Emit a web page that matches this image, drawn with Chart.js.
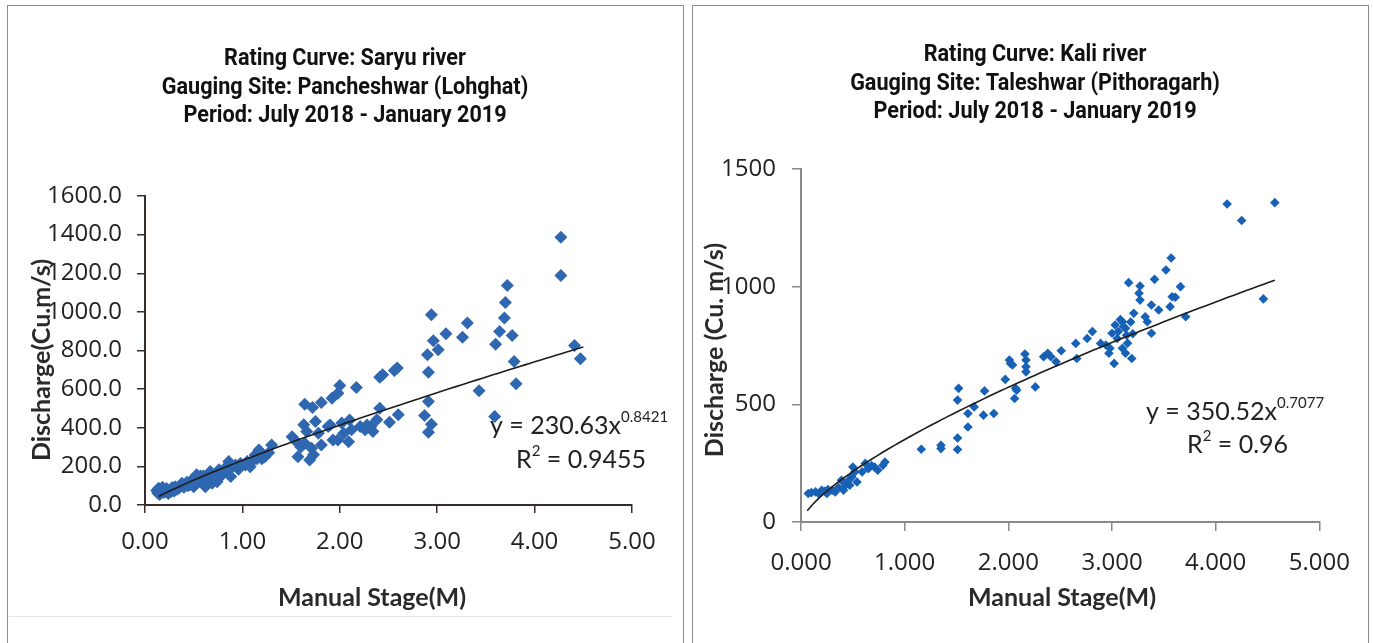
<!DOCTYPE html>
<html>
<head>
<meta charset="utf-8">
<script src="https://cdn.jsdelivr.net/npm/chart.js@4.4.1/dist/chart.umd.min.js"></script>
<style>
    body { margin: 0; background: #fff; width: 1373px; height: 643px; overflow: hidden; position: relative; }
    .panel { position: absolute; top: 5px; height: 660px; border: 1.5px solid #8c8c8c; box-sizing: border-box; }
    #panelLeft { left: 7px; width: 677px; }
    #panelRight { left: 692px; width: 677px; }
    .rule { position: absolute; left: 9px; width: 663px; top: 616px; border-top: 1px solid #e6e6e6; }
    canvas { position: absolute; }
    #saryuChart { left: 8px; top: 5px; }
    #kaliChart { left: 693px; top: 5px; }
</style>
</head>
<body>
<div class="panel" id="panelLeft"></div>
<div class="panel" id="panelRight"></div>
<div class="rule"></div>
<canvas id="saryuChart" width="674" height="638"></canvas>
<canvas id="kaliChart" width="675" height="638"></canvas>

<script>
// Saryu river, Pancheshwar (Lohghat)
const saryuStage = [0.12, 0.13, 0.14, 0.15, 0.16, 0.17, 0.19, 0.21, 0.22, 0.24, 0.26, 0.28, 0.30, 0.31, 0.33, 0.36, 0.38, 0.40, 0.43, 0.46, 0.48, 0.50, 0.53, 0.55, 0.58, 0.60, 0.62, 0.65, 0.67, 0.69, 0.72, 0.76, 0.78, 0.82, 0.86, 0.88, 0.90, 0.93, 0.96, 1.03, 1.05, 1.10, 1.13, 1.17, 1.20, 1.23, 1.27, 1.30,
    0.18, 0.27, 0.35, 0.44, 0.52, 0.57, 0.70, 0.74, 0.84, 0.98, 1.08, 1.15,
    1.51, 1.55, 1.57, 1.60, 1.63, 1.64, 1.66, 1.69, 1.71, 1.73, 1.75, 1.78, 1.81, 1.88, 1.90, 1.93, 1.98, 2.02, 2.04, 2.09, 2.10, 2.12, 2.21, 2.26, 2.28, 2.32, 2.34,
    1.64, 1.72, 1.81, 1.92, 1.98, 2.00, 2.17,
    2.38, 2.41, 2.41, 2.44, 2.51, 2.56, 2.59, 2.60,
    2.87, 2.90, 2.91, 2.91, 2.91, 2.94, 2.94, 2.96, 3.01, 3.09, 3.26, 3.31, 3.43, 3.59, 3.60, 3.64, 3.69, 3.70, 3.72, 3.77, 3.79, 3.81, 4.27, 4.27, 4.41, 4.47];
const saryuDischarge = [75, 62, 87, 55, 70, 80, 66, 69, 85, 60, 78, 90, 72, 95, 82, 100, 113, 92, 118, 105, 130, 95, 156, 120, 140, 150, 95, 135, 173, 113, 160, 182, 150, 190, 225, 147, 200, 207, 185, 207, 225, 225, 259, 285, 240, 250, 270, 311,
    92, 70, 88, 100, 112, 150, 140, 120, 172, 215, 198, 240,
    354, 330, 250, 300, 415, 320, 380, 233, 294, 260, 432, 372, 311, 406, 414, 337, 337, 424, 371, 328, 440, 389, 406, 389, 414, 406, 380,
    522, 505, 531, 553, 579, 619, 608,
    441, 501, 662, 674, 429, 697, 709, 467,
    463, 778, 688, 536, 377, 418, 985, 851, 804, 887, 868, 942, 591, 458, 833, 899, 968, 1049, 1136, 878, 743, 628, 1386, 1188, 826, 757];

// Kali river, Taleshwar (Pithoragarh)
const kaliStage = [0.07, 0.10, 0.14, 0.17, 0.20, 0.23, 0.25, 0.26, 0.30, 0.33, 0.36, 0.39, 0.41, 0.43, 0.46, 0.47, 0.49, 0.50, 0.52, 0.54, 0.59, 0.62, 0.65, 0.68, 0.71, 0.74, 0.79, 0.81,
    1.16, 1.35, 1.35, 1.51, 1.51, 1.51, 1.52, 1.61, 1.61, 1.67, 1.76, 1.77, 1.86, 1.97, 2.01, 2.02, 2.04, 2.06, 2.07, 2.08, 2.16, 2.17, 2.17, 2.17, 2.26, 2.34, 2.38, 2.41, 2.46, 2.51, 2.65, 2.66, 2.76, 2.81,
    2.89, 2.94, 2.97, 2.98, 3.00, 3.02, 3.03, 3.05, 3.06, 3.08, 3.10, 3.10, 3.11, 3.13, 3.13, 3.14, 3.15, 3.16, 3.18, 3.19, 3.20, 3.21, 3.26, 3.27, 3.27, 3.32, 3.34, 3.38, 3.38, 3.41, 3.45, 3.52, 3.56, 3.57, 3.58, 3.61, 3.66, 3.71, 4.11, 4.25, 4.46, 4.57];
const kaliDischarge = [121, 125, 128, 120, 135, 130, 121, 138, 135, 128, 146, 177, 135, 156, 177, 156, 191, 234, 213, 170, 213, 249, 227, 240, 234, 220, 241, 255,
    309, 326, 312, 357, 308, 518, 568, 404, 461, 489, 454, 557, 461, 606, 688, 674, 667, 525, 568, 560, 714, 688, 660, 638, 574, 702, 717, 702, 681, 728, 759, 695, 780, 809,
    759, 752, 717, 738, 802, 674, 837, 780, 809, 860, 851, 738, 830, 823, 717, 794, 760, 1017, 850, 695, 800, 887, 972, 1003, 943, 872, 851, 922, 802, 1031, 901, 1071, 915, 1122, 957, 955, 1000, 872, 1351, 1281, 948, 1357];

// power trendlines as printed on the charts
const saryuFit = { a: 230.63, b: 0.8421, r2: '0.9455', from: 0.14, to: 4.5 };
const kaliFit = { a: 350.52, b: 0.7077, r2: '0.96', from: 0.06, to: 4.57 };

const saryuTitle = ['Rating Curve: Saryu river', 'Gauging Site: Pancheshwar (Lohghat)', 'Period: July 2018 - January 2019'];
const kaliTitle = ['Rating Curve: Kali river', 'Gauging Site: Taleshwar (Pithoragarh)', 'Period: July 2018 - January 2019'];

const tickFont = '"Open Sans", Lato, sans-serif';
const labelFont = 'Lato, "Open Sans", sans-serif';

function toPoints(xs, ys) {
    return xs.map((x, i) => ({ x: x, y: ys[i] }));
}

function trendPoints(fit) {
    const pts = [];
    for (let i = 0; i <= 80; i++) {
        const x = fit.from + (fit.to - fit.from) * i / 80;
        pts.push({ x: x, y: fit.a * Math.pow(x, fit.b) });
    }
    return pts;
}

// titles, axis titles and the trendline equation
const panelText = {
    id: 'panelText',
    afterDraw(chart, args, o) {
        const ctx = chart.ctx;
        ctx.save();
        ctx.textAlign = 'center';
        ctx.textBaseline = 'middle';
        ctx.fillStyle = '#111';
        ctx.font = 'bold 24px Roboto, "DejaVu Sans", sans-serif';
        o.title.forEach((line, i) => {
            ctx.save();
            ctx.translate(o.titleX, o.titleY + i * o.titleGap);
            ctx.scale(0.9, 1);
            ctx.fillText(line, 0, 0);
            ctx.restore();
        });

        ctx.fillStyle = o.axisTitleColor;
        ctx.font = 'bold 25px ' + labelFont;
        ctx.fillText(o.xTitle, o.xTitleX, o.xTitleY);
        ctx.save();
        ctx.translate(o.yTitleX, o.yTitleY);
        ctx.rotate(-Math.PI / 2);
        ctx.fillText(o.yTitle, 0, 0);
        ctx.restore();

        // y = a x^b
        ctx.textAlign = 'left';
        ctx.fillStyle = '#222';
        ctx.font = '25px ' + labelFont;
        const eq = 'y = ' + o.fit.a.toFixed(2) + 'x';
        ctx.fillText(eq, o.eqX, o.eqY);
        const w = ctx.measureText(eq).width;
        ctx.font = '15px ' + labelFont;
        ctx.fillText(o.fit.b.toFixed(4), o.eqX + w, o.eqY - 9);

        // R² = ...
        ctx.font = '25px ' + labelFont;
        ctx.fillText('R', o.r2X, o.r2Y);
        const wr = ctx.measureText('R').width;
        ctx.font = '15px ' + labelFont;
        ctx.fillText('2', o.r2X + wr, o.r2Y - 9);
        const w2 = ctx.measureText('2').width;
        ctx.font = '25px ' + labelFont;
        ctx.fillText(' = ' + o.fit.r2, o.r2X + wr + w2, o.r2Y);
        ctx.restore();
    }
};

function makeChart(id, cfg) {
    return new Chart(document.getElementById(id), {
        type: 'scatter',
        data: {
            datasets: [{
                data: toPoints(cfg.xs, cfg.ys),
                pointStyle: 'rectRot',
                pointRadius: cfg.markerSize,
                backgroundColor: cfg.markerColor,
                borderColor: cfg.markerColor,
                borderWidth: 0,
                order: 2
            }, {
                type: 'line',
                data: trendPoints(cfg.fit),
                borderColor: '#1c1c1c',
                borderWidth: 1.6,
                pointRadius: 0,
                fill: false,
                order: 1
            }]
        },
        options: {
            responsive: false,
            animation: false,
            events: [],
            layout: { padding: cfg.padding },
            plugins: {
                legend: { display: false },
                tooltip: { enabled: false },
                panelText: cfg.text
            },
            scales: {
                x: {
                    type: 'linear',
                    min: 0,
                    max: 5,
                    afterFit: s => { s.height = cfg.xAxisHeight; },
                    ticks: {
                        stepSize: 1,
                        callback: v => v.toFixed(cfg.xDecimals),
                        padding: cfg.xTickPad,
                        maxRotation: 0,
                        color: '#222',
                        font: { family: tickFont, size: 24 }
                    },
                    grid: { drawOnChartArea: false, tickLength: cfg.tickLen, color: cfg.axisColor, lineWidth: 1.5 },
                    border: { color: cfg.axisColor, width: 2 }
                },
                y: {
                    min: 0,
                    max: cfg.yMax,
                    afterFit: s => { s.width = cfg.yAxisWidth; },
                    ticks: {
                        stepSize: cfg.yStep,
                        callback: v => v.toFixed(cfg.yDecimals),
                        padding: cfg.yTickPad,
                        color: '#222',
                        font: { family: tickFont, size: 24 }
                    },
                    grid: { drawOnChartArea: false, tickLength: cfg.tickLen, color: cfg.axisColor, lineWidth: 1.5 },
                    border: { color: cfg.axisColor, width: 2 }
                }
            }
        },
        plugins: [panelText]
    });
}

makeChart('saryuChart', {
    xs: saryuStage, ys: saryuDischarge, fit: saryuFit,
    markerSize: 6.5, markerColor: '#2F67B1', axisColor: '#3b2c2c',
    padding: { left: 0, right: 50, top: 191, bottom: 0 },
    xAxisHeight: 138, yAxisWidth: 137, tickLen: 8,
    xTickPad: 15, yTickPad: 15, xDecimals: 2, yDecimals: 1, yMax: 1600, yStep: 200,
    text: {
        title: saryuTitle, titleX: 337, titleY: 54, titleGap: 28.5,
        xTitle: 'Manual Stage(M)', xTitleX: 364, xTitleY: 593,
        yTitle: 'Discharge(Cu.m/s)', yTitleX: 34, yTitleY: 355,
        axisTitleColor: '#2a2a2a',
        fit: saryuFit, eqX: 482, eqY: 421, r2X: 508, r2Y: 455
    }
});

makeChart('kaliChart', {
    xs: kaliStage, ys: kaliDischarge, fit: kaliFit,
    markerSize: 4.8, markerColor: '#1762B6', axisColor: '#8a8a8a',
    padding: { left: 0, right: 46, top: 164, bottom: 0 },
    xAxisHeight: 121, yAxisWidth: 108, tickLen: 9,
    xTickPad: 18, yTickPad: 16, xDecimals: 3, yDecimals: 0, yMax: 1500, yStep: 500,
    text: {
        title: kaliTitle, titleX: 342, titleY: 50, titleGap: 28.5,
        xTitle: 'Manual Stage(M)', xTitleX: 369, xTitleY: 593,
        yTitle: 'Discharge (Cu. m/s)', yTitleX: 22, yTitleY: 345,
        axisTitleColor: '#2a2a2a',
        fit: kaliFit, eqX: 453, eqY: 407, r2X: 494, r2Y: 440
    }
});
</script>
</body>
</html>
